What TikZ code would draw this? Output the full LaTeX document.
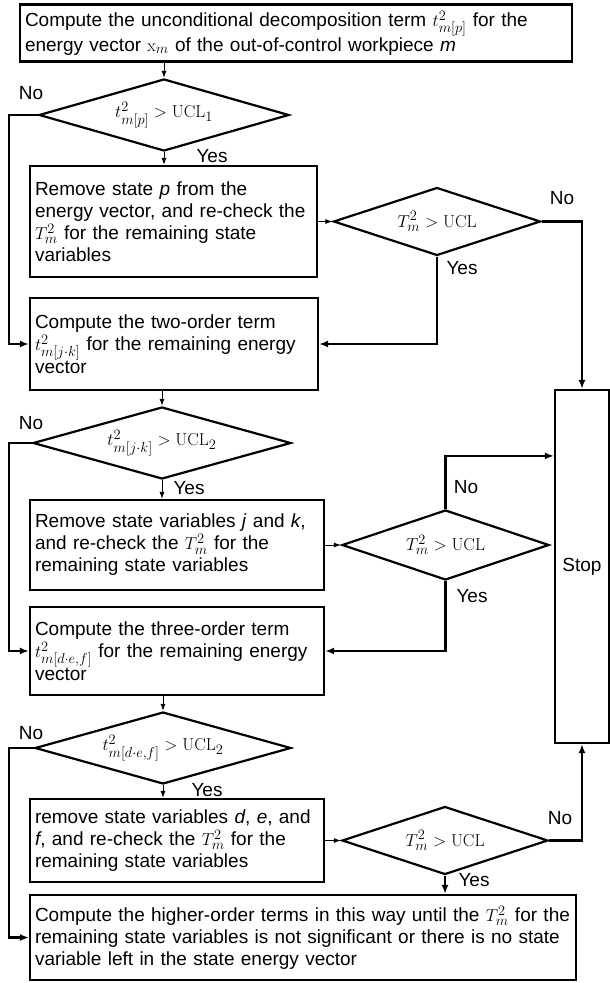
\documentclass[tikz,border=0pt]{standalone}
\usepackage[no-math]{fontspec}
\setmainfont{Liberation Sans}
\usetikzlibrary{shapes.geometric,arrows.meta}

\begin{document}
\begin{tikzpicture}[x=1pt,y=-1pt,>={Latex[length=9pt,width=7pt]},
  box/.style={draw,line width=2.2pt,rectangle,inner xsep=5pt,inner ysep=2pt,align=left,font=\fontsize{19}{22}\selectfont},
  test/.style={draw,line width=2.2pt,diamond,shape aspect=3.5,inner sep=0pt,font=\fontsize{19}{22}\selectfont},
  lab/.style={inner sep=1pt,font=\fontsize{19}{22}\selectfont},
  flow/.style={line width=2.2pt,->},
  thin/.style={line width=1pt,-{Latex[length=7pt,width=5pt]}}]
\useasboundingbox (0,0) rectangle (610,983);
\coordinate (lft) at (9,0);
% first term
\node[box,text width=542pt,minimum height=57pt] (init) at (296,33)
  {Compute the unconditional decomposition term $t^2_{m[p]}$ for the\\
   energy vector $\mathrm{x}_m$ of the out-of-control workpiece \textit{m}};
\node[test,minimum width=250pt,minimum height=72pt] (chk1) at (164,115) {$t^2_{m[p]} > \mathrm{UCL}_1$};
\node[lab] (no1) at (31,93) {No};
\node[lab] (yes1) at (212,156) {Yes};
\node[box,text width=277pt,minimum height=111pt] (rmp) at (173.5,221.5)
  {Remove state \textit{p} from the\\ energy vector, and re-check the\\
   $T^2_m$ for the remaining state\\ variables};
\node[test,minimum width=207pt,minimum height=68pt] (ta) at (437,221.5) {$T^2_m > \mathrm{UCL}$};
\node[lab] (no2) at (562,198) {No};
\node[lab] (yes2) at (462,268) {Yes};
% two-order term
\node[box,text width=278pt,minimum height=92pt] (two) at (174,344)
  {Compute the two-order term\\ $t^2_{m[j\cdot k]}$ for the remaining energy\\ vector};
\node[test,minimum width=258pt,minimum height=72pt] (chk2) at (162,443) {$t^2_{m[j\cdot k]} > \mathrm{UCL}_2$};
\node[lab] (no3) at (31,423) {No};
\node[lab] (yes3) at (189,488) {Yes};
\node[box,text width=284pt,minimum height=90pt] (rmjk) at (177,545)
  {Remove state variables \textit{j} and \textit{k},\\ and re-check the $T^2_m$ for the\\
   remaining state variables};
\node[test,minimum width=207pt,minimum height=70pt] (tb) at (445.5,545) {$T^2_m > \mathrm{UCL}$};
\node[lab] (no4) at (466,487) {No};
\node[lab] (yes4) at (472,596) {Yes};
% three-order term
\node[box,text width=284pt,minimum height=88pt] (three) at (177,651)
  {Compute the three-order term\\ $t^2_{m[d\cdot e,f]}$ for the remaining energy\\ vector};
\node[test,minimum width=256pt,minimum height=72pt] (chk3) at (163,748) {$t^2_{m[d\cdot e,f]} > \mathrm{UCL}_2$};
\node[lab] (no5) at (31,733) {No};
\node[lab] (yes5) at (207,790) {Yes};
\node[box,text width=284pt,minimum height=83pt] (rmdef) at (177,840.5)
  {remove state variables \textit{d}, \textit{e}, and\\ \textit{f}, and re-check the $T^2_m$ for the\\
   remaining state variables};
\node[test,minimum width=206pt,minimum height=68pt] (tc) at (445,840.5) {$T^2_m > \mathrm{UCL}$};
\node[lab] (no6) at (560,818) {No};
\node[lab] (yes6) at (474,880) {Yes};
% higher-order terms and stop
\node[box,text width=536pt,minimum height=85pt] (higher) at (303,937.5)
  {Compute the higher-order terms in this way until the $T^2_m$ for the\\
   remaining state variables is not significant or there is no state\\
   variable left in the state energy vector};
\node[box,minimum width=54pt,minimum height=353pt,inner sep=0pt] (stop) at (582,566.5) {Stop};
% connectors
\draw[thin] (init.south -| chk1.north) -- (chk1.north);
\draw[flow] (chk1.west) -- (chk1.west -| lft) |- (two.west);
\draw[thin] (chk1.south) -- (rmp.north -| chk1.south);
\draw[thin] (rmp.east) -- (ta.west);
\draw[flow] (ta.east) -| (stop.north);
\draw[flow] (ta.south) |- (two.east);
\draw[thin] (two.south -| chk2.north) -- (chk2.north);
\draw[flow] (chk2.west) -- (chk2.west -| lft) |- (three.west);
\draw[thin] (chk2.south) -- (rmjk.north -| chk2.south);
\draw[thin] (rmjk.east) -- (tb.west);
\draw[flow] (tb.north) |- ([yshift=-67pt]stop.north west);
\draw[flow] (tb.south) |- (three.east);
\draw[thin] (three.south -| chk3.north) -- (chk3.north);
\draw[flow] (chk3.west) -- (chk3.west -| lft) |- (higher.west);
\draw[thin] (chk3.south) -- (rmdef.north -| chk3.south);
\draw[thin] (rmdef.east) -- (tc.west);
\draw[flow] (tc.east) -| (stop.south);
\draw[flow] (tc.south) -- (higher.north -| tc.south);
\end{tikzpicture}
\end{document}
